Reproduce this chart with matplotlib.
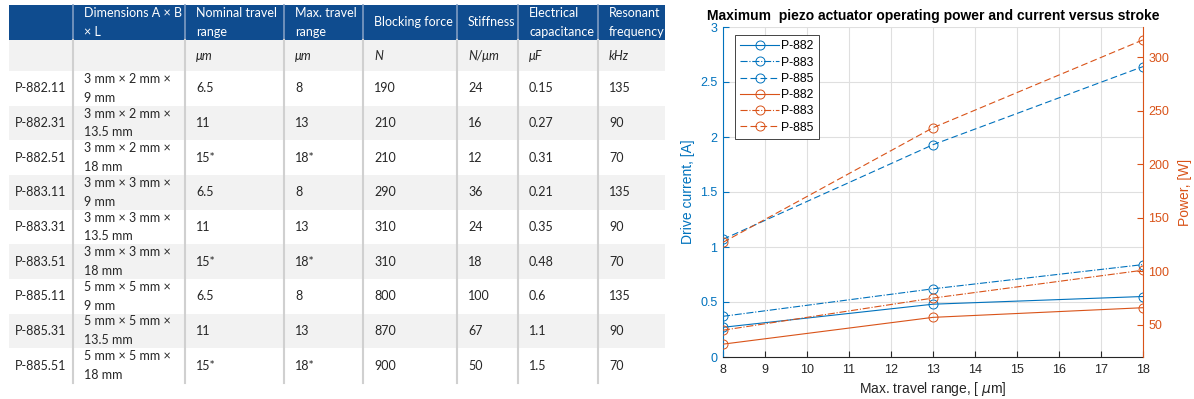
"""Piezo actuator spec table plus power / current versus stroke chart."""

import matplotlib
matplotlib.use("Agg")
import matplotlib.pyplot as plt
from matplotlib.patches import Rectangle

# ── Table data ──────────────────────────────────────────────────────
headers = ["", "Dimensions A × B\n× L", "Nominal travel\nrange", "Max. travel\nrange",
           "Blocking force", "Stiffness", "Electrical\ncapacitance", "Resonant\nfrequency"]
units = ["", "", "μm", "μm", "N", "N/μm", "μF", "kHz"]
models = ["P-882.11", "P-882.31", "P-882.51", "P-883.11", "P-883.31", "P-883.51",
          "P-885.11", "P-885.31", "P-885.51"]
dims = ["3 mm × 2 mm ×\n9 mm", "3 mm × 2 mm ×\n13.5 mm", "3 mm × 2 mm ×\n18 mm",
        "3 mm × 3 mm ×\n9 mm", "3 mm × 3 mm ×\n13.5 mm", "3 mm × 3 mm ×\n18 mm",
        "5 mm × 5 mm ×\n9 mm", "5 mm × 5 mm ×\n13.5 mm", "5 mm × 5 mm ×\n18 mm"]
nominal = ["6.5", "11", "15*", "6.5", "11", "15*", "6.5", "11", "15*"]
max_travel = ["8", "13", "18*", "8", "13", "18*", "8", "13", "18*"]
blocking = ["190", "210", "210", "290", "310", "310", "800", "870", "900"]
stiffness = ["24", "16", "12", "36", "24", "18", "100", "67", "50"]
capacitance = ["0.15", "0.27", "0.31", "0.21", "0.35", "0.48", "0.6", "1.1", "1.5"]
resonant = ["135", "90", "70", "135", "90", "70", "135", "90", "70"]

# ── Chart data ──────────────────────────────────────────────────────
stroke = [8, 13, 18]
series = ["P-882", "P-883", "P-885"]
current = {"P-882": [0.27, 0.48, 0.55],
           "P-883": [0.37, 0.62, 0.84],
           "P-885": [1.07, 1.93, 2.64]}
power = {"P-882": [32, 57, 66],
         "P-883": [45, 75, 101],
         "P-885": [127, 234, 316]}

BLUE = "#0072BD"
ORANGE = "#D95319"
W, H = 1194, 399

fig = plt.figure(figsize=(W / 100, H / 100), dpi=100)

# ── Table (drawn in pixel coordinates) ──────────────────────────────
tab = fig.add_axes([0, 0, 1, 1])
tab.set_xlim(0, W)
tab.set_ylim(H, 0)
tab.axis("off")

col_x = [9, 73, 185, 284, 363, 457, 518, 598, 665]
head_top, head_bot, units_bot = 5, 40, 71
row_h = (383 - units_bot) / len(models)
tfont = dict(family="Lato", fontsize=9, color="#262626")

tab.add_patch(Rectangle((col_x[0], head_top), col_x[-1] - col_x[0], head_bot - head_top,
                        facecolor="#0F4C8F", edgecolor="none"))
tab.add_patch(Rectangle((col_x[0], head_bot), col_x[-1] - col_x[0], units_bot - head_bot,
                        facecolor="#F2F2F2", edgecolor="none"))
rows = list(zip(models, dims, nominal, max_travel, blocking, stiffness, capacitance, resonant))
for i, row in enumerate(rows):
    y0 = units_bot + i * row_h
    tab.add_patch(Rectangle((col_x[0], y0), col_x[-1] - col_x[0], row_h,
                            facecolor="#F2F2F2" if i % 2 else "white", edgecolor="none"))
    for j, txt in enumerate(row):
        pad = 6 if j == 0 else 11
        tab.text(col_x[j] + pad, y0 + row_h / 2, txt, va="center", ha="left",
                 linespacing=1.7, **tfont)

for j in range(len(headers)):
    pad = 6 if j == 0 else 11
    tab.text(col_x[j] + pad, (head_top + head_bot) / 2, headers[j], va="center", ha="left",
             linespacing=1.7, family="Lato", fontsize=9, color="white")
    tab.text(col_x[j] + pad, (head_bot + units_bot) / 2, units[j], va="center", ha="left",
             style="italic", **tfont)

for x in col_x[1:-1]:
    tab.plot([x, x], [head_top, head_bot], color="#7F9CC2", lw=1.2)
    tab.plot([x, x], [head_bot, 383], color="#D0D0D0", lw=1.5)

# ── Chart ───────────────────────────────────────────────────────────
left, right, top, bottom = 723, 1143, 27, 357
ax = fig.add_axes([left / W, 1 - bottom / H, (right - left) / W, (bottom - top) / H])
ax2 = ax.twinx()

styles = {"P-882": "-", "P-883": "-.", "P-885": (0, (6, 3))}
handles = []
for name in series:
    h, = ax.plot(stroke, current[name], linestyle=styles[name], color=BLUE, lw=0.8,
                 marker="o", ms=6.5, mfc="none", mew=0.7, label=name)
    handles.append(h)
for name in series:
    h, = ax2.plot(stroke, power[name], linestyle=styles[name], color=ORANGE, lw=0.8,
                  marker="o", ms=6.5, mfc="none", mew=0.7, label=name)
    handles.append(h)

chart_font = "Liberation Sans"
ax.set_xlim(8, 18)
ax.set_ylim(0, 3)
ax2.set_ylim(20, 328)
ax.set_xticks(range(8, 19))
ax.set_yticks([0, 0.5, 1, 1.5, 2, 2.5, 3])
ax.set_yticklabels(["0", "0.5", "1", "1.5", "2", "2.5", "3"])
ax2.set_yticks([50, 100, 150, 200, 250, 300])
ax.grid(True, color="#dfdfdf", lw=0.8)
ax.set_axisbelow(True)

ax.tick_params(axis="x", direction="in", length=4, colors="#262626", labelsize=9, pad=5)
ax.tick_params(axis="y", direction="in", length=4, colors=BLUE, labelsize=9, pad=4)
ax2.tick_params(axis="y", direction="in", length=4, colors=ORANGE, labelsize=9, pad=4)
for lab in ax.get_xticklabels() + ax.get_yticklabels() + ax2.get_yticklabels():
    lab.set_family(chart_font)

for a in (ax, ax2):
    a.spines["top"].set_visible(False)
ax.spines["right"].set_visible(False)
ax2.spines["left"].set_visible(False)
ax.spines["left"].set_color(BLUE)
ax2.spines["right"].set_color(ORANGE)
ax.spines["bottom"].set_color("#262626")
ax2.spines["bottom"].set_visible(False)

ax.set_xlabel("Max. travel range, [ $\\mu$m]", family=chart_font, fontsize=10,
              color="#262626", labelpad=3)
ax.set_ylabel("Drive current, [A]", family=chart_font, fontsize=10, color=BLUE, labelpad=4)
ax2.set_ylabel("Power, [W]", family=chart_font, fontsize=10, color=ORANGE, labelpad=6)
ax.set_title("Maximum  piezo actuator operating power and current versus stroke",
             family=chart_font, fontsize=10, fontweight="bold", pad=5)

leg = ax2.legend(handles=handles, loc="upper left", bbox_to_anchor=(0.028, 0.976),
                 borderaxespad=0, handlelength=3.2, fancybox=False, framealpha=1,
                 edgecolor="#262626", prop={"family": chart_font, "size": 8.7},
                 labelspacing=0.35, handletextpad=0.2, borderpad=0.45)
leg.get_frame().set_linewidth(0.6)

fig.savefig("out.png", dpi=100)
